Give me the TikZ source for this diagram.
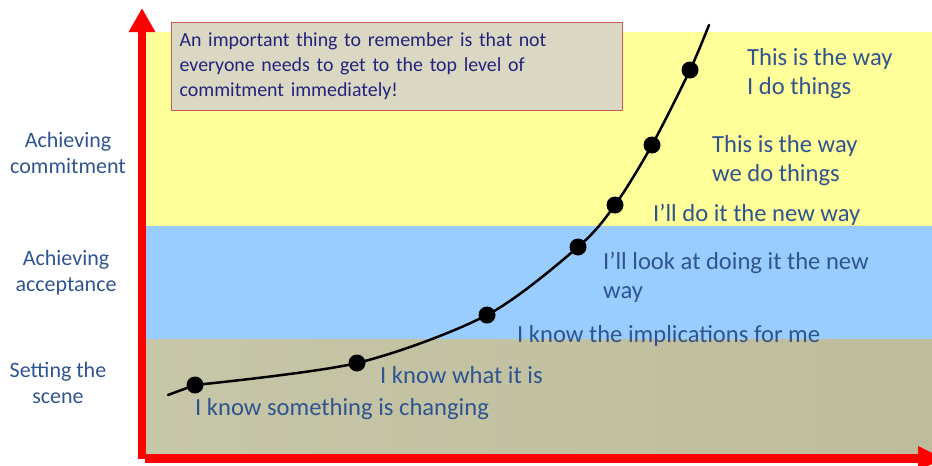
\documentclass[tikz,border=0pt]{standalone}
\usepackage{fontspec}
\setmainfont{Carlito}
\usetikzlibrary{arrows.meta}
\definecolor{bandyellow}{RGB}{255,255,153}
\definecolor{bandblue}{RGB}{153,204,255}
\definecolor{bandtanL}{RGB}{198,198,168}
\definecolor{bandtanR}{RGB}{190,188,156}
\definecolor{axisred}{RGB}{255,0,0}
\definecolor{labelblue}{RGB}{47,84,143}
\definecolor{notefill}{RGB}{218,216,194}
\definecolor{noteborder}{RGB}{200,90,90}
\definecolor{notetext}{RGB}{35,35,125}
\tikzset{
  lbl/.style={text=labelblue, inner sep=0pt},
  side/.style={lbl, align=center, font=\fontsize{22}{26}\selectfont},
  stage/.style={lbl, anchor=west, align=left, font=\fontsize{24.6}{29}\selectfont},
  dot/.style={circle, fill=black, inner sep=0pt, minimum width=16pt, minimum height=17pt},
  axis/.style={draw=axisred, line width=8.5pt},
  curve/.style={line width=2.5pt, line cap=round},
}
\begin{document}
\begin{tikzpicture}[x=1pt,y=-1pt]
\useasboundingbox (0,0) rectangle (932,466);
\begin{scope}
\clip (0,0) rectangle (932,466);
% bands
\fill[bandyellow] (146,32) rectangle (932,226);
\fill[bandblue] (146,226) rectangle (932,339);
\shade[left color=bandtanL, right color=bandtanR] (146,339) rectangle (932,454);
% axes
\draw[axis, -{Triangle[width=25pt,length=24pt]}] (142,459) -- (142,8);
\coordinate (xstart) at (145,458.5);
\coordinate (xend) at (944,458.5);
\draw[axis, -{Triangle[width=23pt,length=26pt]}] (xstart) -- (xend);
\end{scope}
% note
\node[draw=noteborder, line width=1.3pt, fill=notefill, anchor=north west,
      minimum width=451pt, minimum height=88pt, text width=435pt,
      align=left, inner xsep=8pt, inner ysep=4pt, text=notetext,
      font=\fontsize{19.9}{25}\selectfont] (note) at (171,22)
  {An important thing to remember is that not\\everyone needs to get to the top level of\\commitment immediately!};
% side labels
\node[side] (s1) at (68,153) {Achieving\\commitment};
\node[side] (s2) at (66,273) {Achieving\\acceptance};
\node[side] (s3) at (58,383) {Setting the\\scene};
% curve and dots
\coordinate (c0) at (168,395);
\node[dot] (d1) at (195,385) {};
\node[dot] (d2) at (357,363) {};
\node[dot] (d3) at (487,315) {};
\node[dot] (d4) at (578,247) {};
\node[dot] (d5) at (615,205) {};
\node[dot] (d6) at (652,145) {};
\node[dot] (d7) at (690,70) {};
\coordinate (c8) at (709,25);
\draw[curve] (c0) -- (d1.center);
\draw[curve] plot[smooth, tension=0.5] coordinates
  {(d1.center) (d2.center) (d3.center) (d4.center) (d5.center) (d6.center) (d7.center) (c8)};
% stage labels
\node[stage] (t1) at (195,409) {I know something is changing};
\node[stage] (t2) at (380,375) {I know what it is};
\node[stage] (t3) at (517,336) {I know the implications for me};
\node[stage] (t4) at (603,277) {I’ll look at doing it the new\\way};
\node[stage] (t5) at (653,215) {I’ll do it the new way};
\node[stage] (t6) at (712,161) {This is the way\\we do things};
\node[stage] (t7) at (747,74) {This is the way\\I do things};
\end{tikzpicture}
\end{document}
